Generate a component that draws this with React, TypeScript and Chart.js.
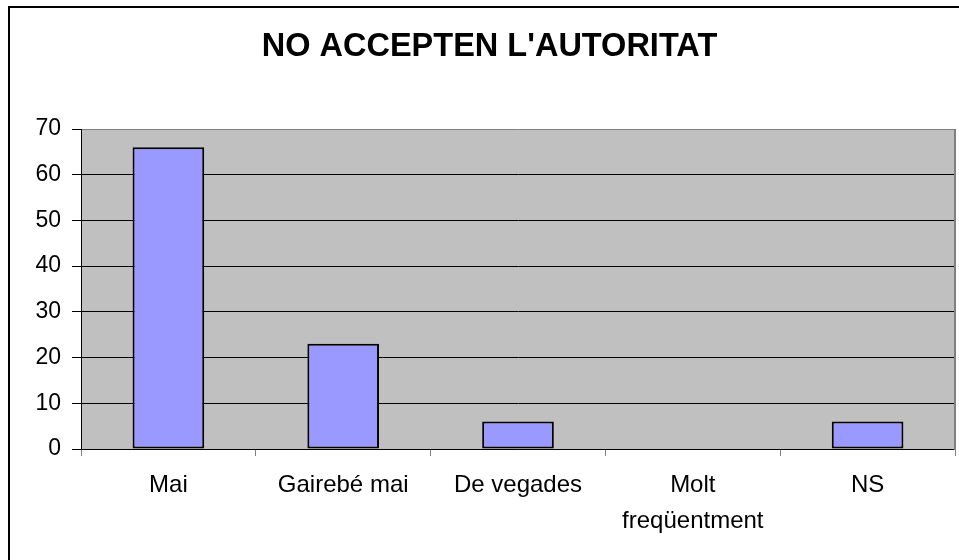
import React, { useEffect, useRef } from "react";
import { Chart, registerables } from "chart.js";

Chart.register(...registerables);

const TITLE = "NO ACCEPTEN L'AUTORITAT";
const categories: (string | string[])[] = ["Mai", "Gairebé mai", "De vegades", ["Molt", "freqüentment"], "NS"];
const values: number[] = [66, 23, 6, 0, 6];
const yMin = 0;
const yMax = 70;
const yStep = 10;

const FONT = "'Liberation Sans', Arial, Helvetica, sans-serif";

const frame = {
  id: "frame",
  beforeDraw(chart: any) {
    const { ctx, width, height, chartArea } = chart;
    ctx.save();
    ctx.fillStyle = "#ffffff";
    ctx.fillRect(0, 0, width, height);
    ctx.fillStyle = "#000000";
    ctx.fillRect(8, 6, width - 8, 2);
    ctx.fillRect(8, 6, 2, height - 6);
    ctx.fillStyle = "#C0C0C0";
    ctx.fillRect(chartArea.left, chartArea.top, chartArea.right - chartArea.left, chartArea.bottom - chartArea.top);
    ctx.restore();
  },
  afterDatasetsDraw(chart: any) {
    const { ctx, chartArea } = chart;
    ctx.save();
    ctx.fillStyle = "#808080";
    ctx.fillRect(chartArea.right - 1, chartArea.top, 2, chartArea.bottom - chartArea.top + 1);
    ctx.restore();
  },
};

export default function App() {
  const ref = useRef<HTMLCanvasElement | null>(null);

  useEffect(() => {
    document.body.style.margin = "0";
    const canvas = ref.current;
    if (!canvas) return;
    const chart = new Chart(canvas, {
      type: "bar",
      data: {
        labels: categories,
        datasets: [
          {
            data: values,
            backgroundColor: "#9999FF",
            borderColor: "#000000",
            borderWidth: (c: any) => (c.raw === 0 ? 0 : 2),
            borderSkipped: false,
            barPercentage: 0.41,
            categoryPercentage: 1,
          },
        ],
      },
      options: {
        responsive: false,
        animation: false,
        devicePixelRatio: 1,
        layout: { padding: { left: 24, right: 4, top: 0, bottom: 0 } },
        plugins: {
          legend: { display: false },
          tooltip: { enabled: false },
          title: {
            display: true,
            text: TITLE,
            color: "#000000",
            font: { family: FONT, size: 32.5, weight: "bold", lineHeight: 1.2 },
            padding: { top: 28, bottom: 62 },
          },
        },
        scales: {
          x: {
            offset: true,
            grid: {
              display: true,
              offset: true,
              drawOnChartArea: false,
              drawTicks: true,
              tickLength: 7,
              color: "#808080",
              tickColor: "#808080",
            },
            border: { display: true, color: "#000000", width: 1 },
            ticks: {
              color: "#000000",
              font: { family: FONT, size: 24, lineHeight: 1.5 },
              padding: 11,
              maxRotation: 0,
              minRotation: 0,
              autoSkip: false,
            },
            afterFit: (s: any) => {
              s.height = 111;
            },
          },
          y: {
            min: yMin,
            max: yMax,
            grid: {
              display: true,
              drawTicks: true,
              tickLength: 9,
              color: (c: any) => (c.tick && c.tick.value === yMax ? "#808080" : "#000000"),
              tickColor: "#000000",
              lineWidth: 1,
            },
            border: { display: true, color: "#000000", width: 1 },
            ticks: {
              stepSize: yStep,
              color: "#000000",
              font: { family: FONT, size: 23 },
              padding: 11,
            },
            afterFit: (s: any) => {
              s.width = 57;
            },
          },
        },
      },
      plugins: [frame],
    } as any);
    return () => chart.destroy();
  }, []);

  return (
    <div style={{ position: "absolute", left: 0, top: 0, width: 959, height: 560 }}>
      <canvas ref={ref} width={959} height={560} style={{ display: "block", width: 959, height: 560 }} />
    </div>
  );
}
